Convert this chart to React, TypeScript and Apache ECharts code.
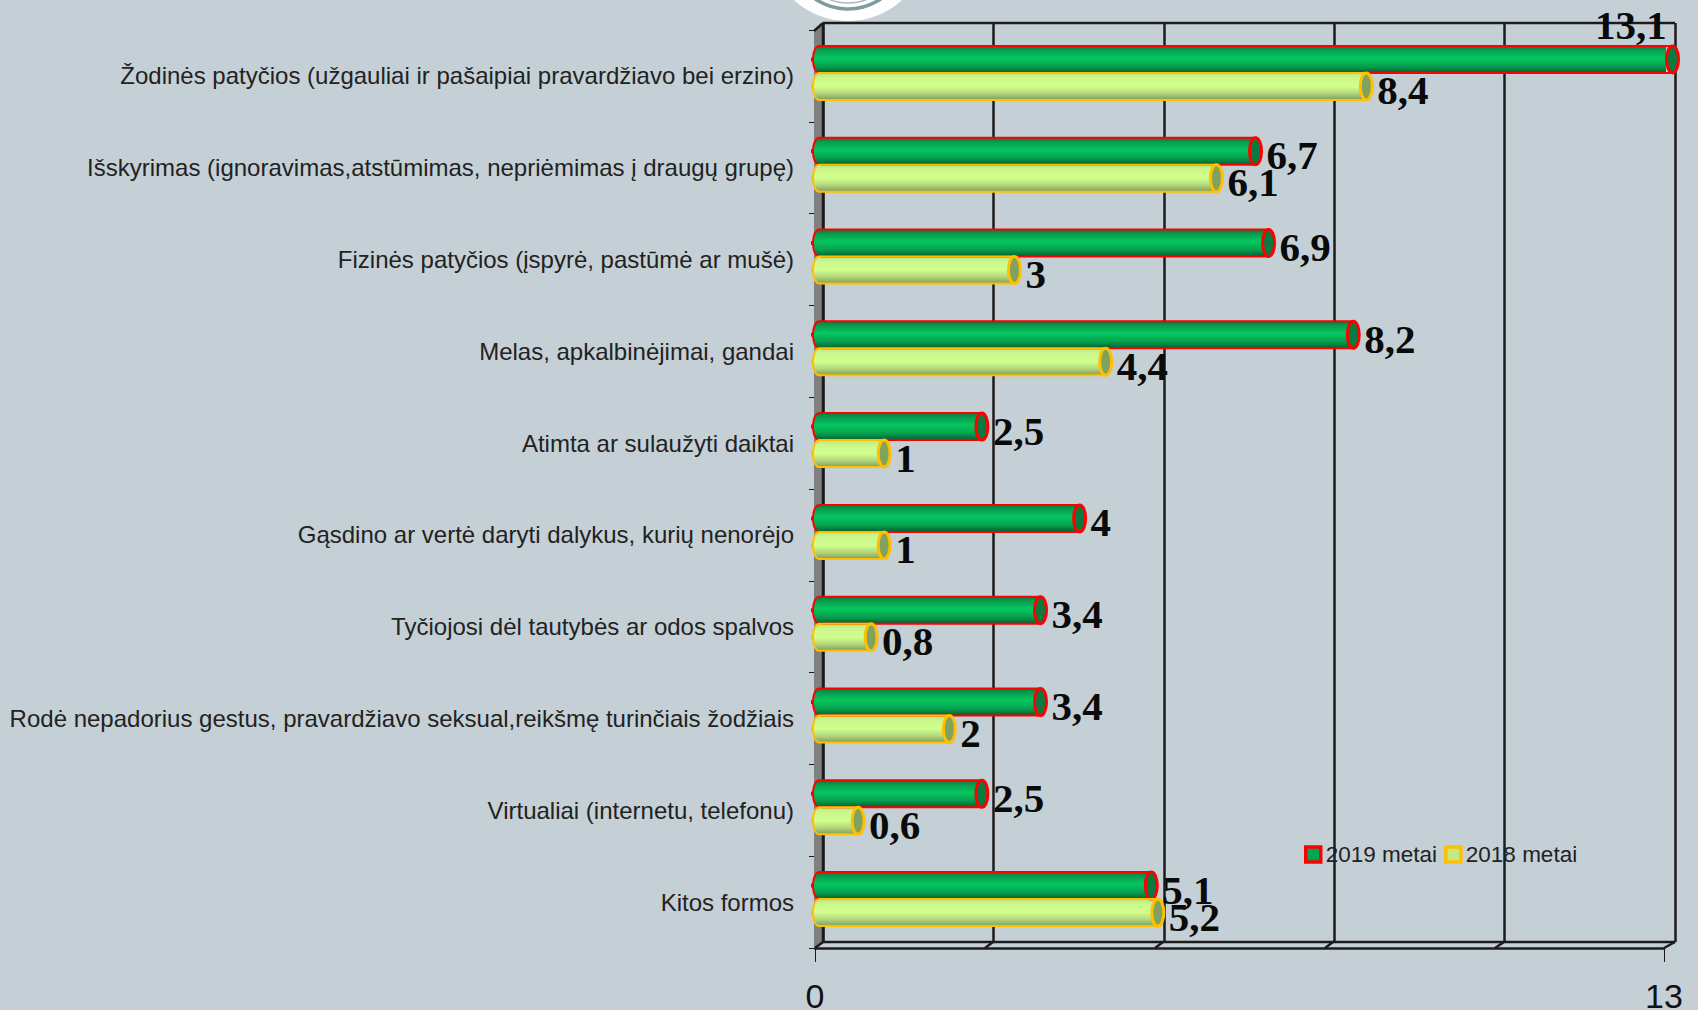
import React, { useEffect, useRef } from "react";
import * as echarts from "echarts";

const categories = [
  "Žodinės patyčios (užgauliai ir pašaipiai pravardžiavo bei erzino)",
  "Išskyrimas (ignoravimas,atstūmimas, nepriėmimas į draugų grupę)",
  "Fizinės patyčios (įspyrė, pastūmė ar mušė)",
  "Melas, apkalbinėjimai, gandai",
  "Atimta ar sulaužyti daiktai",
  "Gąsdino ar vertė daryti dalykus, kurių nenorėjo",
  "Tyčiojosi dėl tautybės ar odos spalvos",
  "Rodė nepadorius gestus, pravardžiavo seksual,reikšmę turinčiais žodžiais",
  "Virtualiai (internetu, telefonu)",
  "Kitos formos",
];
const values2019 = [13.1, 6.7, 6.9, 8.2, 2.5, 4, 3.4, 3.4, 2.5, 5.1];
const values2018 = [8.4, 6.1, 3, 4.4, 1, 1, 0.8, 2, 0.6, 5.2];
const seriesNames = ["2019 metai", "2018 metai"];
const axisTicks = [0, 13];

const BAR = 27;
const INK = "#1c1c1c";
const vGrad = (stops: [number, string][]) =>
  new echarts.graphic.LinearGradient(0, 0, 0, 1, stops.map(([offset, color]) => ({ offset, color })));
const greenFill = () => vGrad([[0, "#067a3e"], [0.18, "#08a04f"], [0.45, "#05c75f"], [0.75, "#06a04e"], [1, "#045f2f"]]);
const yellowFill = () => vGrad([[0, "#bfe585"], [0.2, "#ccf88c"], [0.5, "#d0ff8c"], [0.75, "#b4d87c"], [1, "#7f9c5c"]]);

const fmt = (v: number) => String(v).replace(".", ",");

const capSeries = (name: string, values: number[], stroke: string, fill: () => any, capFill: string, z: number, place: number) => ({
  type: "custom",
  name: name + " caps",
  xAxisIndex: 2,
  yAxisIndex: 2,
  z,
  clip: false,
  silent: true,
  encode: { x: 0, y: 1 },
  data: values.map((v, i) => [v, i]),
  renderItem: (_: any, api: any) => {
    const [ex, cy0] = api.coord([api.value(0), api.value(1)]);
    const [sx] = api.coord([0, api.value(1)]);
    const cy = cy0 + place * (BAR / 2);
    const ry = BAR / 2;
    const rx = 6;
    const left: number[][] = [];
    for (let k = 0; k <= 16; k++) {
      const t = Math.PI / 2 + (k / 16) * Math.PI;
      left.push([sx + rx * Math.cos(t), cy + ry * Math.sin(t)]);
    }
    const line = { stroke, lineWidth: 2, fill: "none" };
    return {
      type: "group",
      children: [
        { type: "ellipse", shape: { cx: sx, cy, rx, ry }, style: { fill: fill() } },
        { type: "polyline", shape: { points: left }, style: line },
        { type: "rect", shape: { x: sx - rx - 2, y: cy - 2, width: 2, height: 4 }, style: { fill: stroke } },
        { type: "line", shape: { x1: sx, y1: cy - ry, x2: ex, y2: cy - ry }, style: line },
        { type: "line", shape: { x1: sx, y1: cy + ry, x2: ex, y2: cy + ry }, style: line },
        { type: "ellipse", shape: { cx: ex, cy, rx, ry }, style: { fill: capFill, stroke, lineWidth: 3 } },
      ],
    };
  },
});

const barSeries = (name: string, values: number[], fill: () => any, z: number) => ({
  type: "bar",
  name,
  xAxisIndex: 2,
  yAxisIndex: 2,
  z,
  barWidth: BAR,
  barGap: "0%",
  itemStyle: { color: fill() },
  data: values.map((v) => ({
    value: v,
    label:
      v > 13
        ? { position: "right", offset: [-82, -34] }
        : { position: "right", offset: [0, 4] },
  })),
  label: {
    show: true,
    distance: 11,
    formatter: (p: any) => fmt(p.value),
    fontFamily: "Liberation Serif",
    fontWeight: "bold",
    fontSize: 41,
    color: "#0a0a0a",
  },
});

const line = (x1: number, y1: number, x2: number, y2: number, lineWidth = 2.5) => ({
  type: "line",
  shape: { x1, y1, x2, y2 },
  style: { stroke: INK, lineWidth },
  z: 1,
});

export default function App() {
  const ref = useRef<HTMLDivElement>(null);
  useEffect(() => {
    const chart = echarts.init(ref.current!, null, { renderer: "svg" });
    const hiddenY = { type: "category", inverse: true, data: categories, show: false };
    chart.setOption({
      animation: false,
      backgroundColor: "#c5d0d6",
      grid: [
        { left: 823, top: 23, width: 852, height: 919, outerBoundsMode: "none" },
        { left: 815, top: 30, width: 849, height: 918, outerBoundsMode: "none" },
        { left: 819, top: 27, width: 847, height: 918, outerBoundsMode: "none" },
      ],
      xAxis: [
        {
          gridIndex: 0,
          type: "value",
          min: 0,
          max: 13,
          interval: 2.6,
          axisLine: { show: false },
          axisTick: { show: false },
          axisLabel: { show: false },
          splitLine: { show: true, lineStyle: { color: INK, width: 2.5 } },
        },
        {
          gridIndex: 1,
          type: "value",
          min: axisTicks[0],
          max: axisTicks[1],
          interval: axisTicks[1],
          axisLine: { show: true, lineStyle: { color: INK, width: 2.5 } },
          axisTick: { show: true, length: 14, lineStyle: { color: INK, width: 1 } },
          axisLabel: { margin: 33, lineHeight: 30, fontFamily: "Liberation Sans", fontSize: 34, color: "#111" },
          splitLine: { show: false },
        },
        { gridIndex: 2, type: "value", min: 0, max: 13, show: false },
      ],
      yAxis: [
        { ...hiddenY, gridIndex: 0 },
        {
          gridIndex: 1,
          type: "category",
          inverse: true,
          data: categories,
          axisLine: { show: true, lineStyle: { color: INK, width: 2.5 } },
          axisTick: { show: true, length: 6, lineStyle: { color: INK, width: 1 } },
          axisLabel: {
            margin: 21,
            interval: 0,
            fontFamily: "Liberation Sans",
            fontSize: 24,
            color: "#222",
          },
        },
        { ...hiddenY, gridIndex: 2 },
      ],
      legend: {
        left: 1304,
        top: 843,
        padding: 0,
        itemWidth: 15,
        itemHeight: 15,
        itemGap: 7,
        icon: "rect",
        selectedMode: false,
        textStyle: { fontFamily: "Liberation Sans", fontSize: 22.5, color: "#222" },
        data: [
          { name: seriesNames[0], itemStyle: { color: "#00a651", borderColor: "#ff0000", borderWidth: 3.5 } },
          { name: seriesNames[1], itemStyle: { color: "#c3e88a", borderColor: "#ffc000", borderWidth: 3.5 } },
        ],
      },
      graphic: [
        { type: "circle", shape: { cx: 848, cy: -59, r: 80 }, style: { fill: "#ffffff" }, z: 1 },
        { type: "circle", shape: { cx: 848, cy: -49, r: 58 }, style: { fill: "none", stroke: "#7f9c9c", lineWidth: 3.5 }, z: 1 },
        { type: "circle", shape: { cx: 848, cy: -49, r: 52 }, style: { fill: "none", stroke: "#a9bdbd", lineWidth: 1.5 }, z: 1 },
        { type: "polygon", shape: { points: [[814, 31], [823, 23], [823, 942], [814, 948]] }, style: { fill: "#808080" }, z: 1 },
        line(823, 23, 1675, 23),
        line(814, 31, 823, 23),
        line(823, 23, 823, 942),
        line(823, 942, 1675, 942),
        line(815, 948, 823, 942),
        line(985, 948, 993, 942),
        line(1155, 948, 1163, 942),
        line(1325, 948, 1333, 942),
        line(1495, 948, 1504, 942),
        line(1664, 948, 1675, 942),
      ],
      series: [
        barSeries(seriesNames[0], values2019, greenFill, 3),
        barSeries(seriesNames[1], values2018, yellowFill, 3),
        capSeries(seriesNames[0], values2019, "#ff0000", greenFill, "#0a7a40", 4, -1),
        capSeries(seriesNames[1], values2018, "#ffc000", yellowFill, "#7fa35e", 5, 1),
      ],
    });
    return () => chart.dispose();
  }, []);
  return <div ref={ref} style={{ position: "fixed", left: 0, top: 0, width: 1698, height: 1010 }} />;
}
